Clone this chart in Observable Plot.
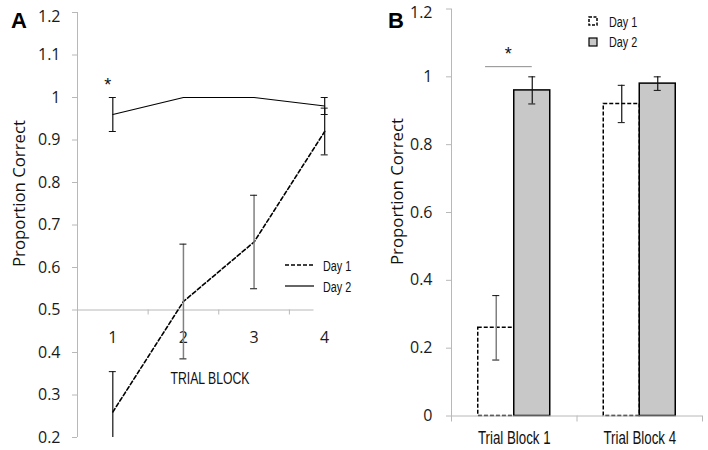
<!DOCTYPE html>
<html><head><meta charset="utf-8">
<script src="https://cdn.jsdelivr.net/npm/d3@7"></script>
<script src="https://cdn.jsdelivr.net/npm/@observablehq/plot@0.6"></script>
<style>
body{margin:0;background:#fff;}
#wrap{position:relative;width:708px;height:450px;overflow:hidden;background:#fff;}
#pa{position:absolute;left:0;top:0;}
#pb{position:absolute;left:360px;top:0;}
#pa svg,#pb svg{overflow:visible;}
#ann{position:absolute;left:0;top:0;pointer-events:none;}
</style></head><body>
<div id="wrap"><div id="pa"></div><div id="pb"></div>
<svg id="ann" width="708" height="450" xmlns="http://www.w3.org/2000/svg"></svg></div>
<script>
// ---- Panel A data ----
const blocksA = [1, 2, 3, 4];
const day1A = [0.26, 0.52, 0.66, 0.92];
const day1AErr = [0.095, 0.135, 0.11, 0.055];
const day2A = [0.96, 1.0, 1.0, 0.98];
const day2AErr = [0.04, 0, 0, 0.02];
const yTicksA = [0.2, 0.3, 0.4, 0.5, 0.6, 0.7, 0.8, 0.9, 1.0, 1.1, 1.2];
// ---- Panel B data ----
const blocksB = ["Trial Block 1", "Trial Block 4"];
const days = ["Day 1", "Day 2"];
const day1B = [0.26, 0.92];
const day1BErr = [0.095, 0.055];
const day2B = [0.96, 0.98];
const day2BErr = [0.04, 0.02];
const yTicksB = [0, 0.2, 0.4, 0.6, 0.8, 1, 1.2];

const GRAY = "#b8b8b8", ERRGRAY = "#808080";
const SANS = "'Open Sans', 'Noto Sans', sans-serif";
const NARROW = "'Liberation Sans', Arial, sans-serif";
const fmt = d => String(+d.toFixed(1));

const rowsA = blocksA.flatMap((b, i) => [
  {block: b, day: "Day 1", v: day1A[i], e: day1AErr[i]},
  {block: b, day: "Day 2", v: day2A[i], e: day2AErr[i]}
]);
const a1 = rowsA.filter(d => d.day === "Day 1");
const a2 = rowsA.filter(d => d.day === "Day 2");
const errA = rowsA.filter(d => d.e > 0);
const errAgray = errA.filter(d => d.day === "Day 1" && (d.block === 2 || d.block === 3));
const errAblack = errA.filter(d => !errAgray.includes(d));
const topA = yTicksA[yTicksA.length - 1];

const plotA = Plot.plot({
  width: 360, height: 450,
  marginLeft: 77, marginRight: 0.5, marginTop: 12, marginBottom: 13,
  x: {domain: [0.5, 4.5], axis: null},
  y: {domain: [0.2, 1.2], axis: null},
  style: {fontFamily: SANS, fontSize: "16px", color: "#111", background: "transparent", overflow: "visible"},
  marks: [
    Plot.ruleX([0.5], {stroke: GRAY}),
    Plot.axisY({ticks: yTicksA, tickSize: 5, text: null, stroke: GRAY, label: null}),
    Plot.axisY({ticks: yTicksA.slice(0, -1), tickSize: 5, tickPadding: 12, tickFormat: fmt, stroke: "none", fill: "#1a1a1a", fontSize: 16, label: null}),
    Plot.axisY({ticks: [topA], tickSize: 5, tickPadding: 12, tickFormat: fmt, stroke: "none", fill: "#1a1a1a", fontSize: 16, label: null, dy: 4}),
    Plot.ruleY([0.5], {x1: 0.5, x2: 4.5, insetRight: 46, stroke: GRAY}),
    Plot.ruleX([1.5, 2.5, 3.5], {y1: 0.5, y2: 0.5, insetBottom: -5, stroke: GRAY}),
    Plot.text(blocksA, {x: d => d, y: () => 0.5, dy: 28, text: d => String(d), fontSize: 16, fill: "#1a1a1a"}),
    Plot.line(a2, {x: "block", y: "v", stroke: "black", strokeWidth: 1.2}),
    Plot.line(a1, {x: "block", y: "v", stroke: "black", strokeWidth: 1.6, strokeDasharray: "4,2.5"}),
    Plot.ruleX(errAblack, {x: "block", y1: d => d.v - d.e, y2: d => d.v + d.e, stroke: "#111", strokeWidth: 1.2, clip: true}),
    Plot.ruleX(errAgray, {x: "block", y1: d => d.v - d.e, y2: d => d.v + d.e, stroke: ERRGRAY, strokeWidth: 1.5, clip: true}),
    Plot.ruleY(errA, {y: d => d.v + d.e, x1: "block", x2: "block", insetLeft: -3.5, insetRight: -3.5, stroke: "#111", clip: true}),
    Plot.ruleY(errA, {y: d => d.v - d.e, x1: "block", x2: "block", insetLeft: -3.5, insetRight: -3.5, stroke: "#111", clip: true}),
    Plot.text([blocksA[0]], {x: d => d, y: () => 1.0, dx: -5, dy: -12, text: () => "*", fontSize: 18, fontFamily: "Arial, sans-serif"})
  ]
});
document.getElementById("pa").appendChild(plotA);

const rowsB = blocksB.flatMap((b, i) => [
  {block: b, day: "Day 1", v: day1B[i], e: day1BErr[i]},
  {block: b, day: "Day 2", v: day2B[i], e: day2BErr[i]}
]);
const b1 = rowsB.filter(d => d.day === "Day 1");
const b2 = rowsB.filter(d => d.day === "Day 2");
const errBgray = rowsB.filter(d => d.day === "Day 1" && d.block === blocksB[0]);
const errBblack = rowsB.filter(d => !errBgray.includes(d));
const topB = yTicksB[yTicksB.length - 1];

const plotB = Plot.plot({
  width: 348, height: 450,
  marginLeft: 91, marginRight: 6, marginTop: 8.5, marginBottom: 34.5,
  fx: {domain: blocksB, padding: 0, axis: null, round: false},
  x: {domain: days, paddingInner: 0, paddingOuter: 0.743, axis: null, round: false},
  y: {domain: [0, 1.2], axis: null},
  style: {fontFamily: SANS, fontSize: "16px", color: "#111", background: "transparent", overflow: "visible"},
  marks: [
    Plot.frame({anchor: "left", facetAnchor: "left", stroke: GRAY, insetBottom: -5}),
    Plot.frame({anchor: "right", stroke: GRAY, insetTop: 407, insetBottom: -5}),
    Plot.axisY({ticks: yTicksB, tickSize: 5, text: null, stroke: GRAY, label: null}),
    Plot.axisY({ticks: yTicksB.slice(0, -1), tickSize: 5, tickPadding: 14, tickFormat: fmt, stroke: "none", fill: "#1a1a1a", fontSize: 16, label: null}),
    Plot.axisY({ticks: [topB], tickSize: 5, tickPadding: 14, tickFormat: fmt, stroke: "none", fill: "#1a1a1a", fontSize: 16, label: null, dy: 4}),
    Plot.axisFx({anchor: "bottom", tickSize: 0, tickPadding: 15, fontSize: 18.5, fontFamily: NARROW, fill: "#111", label: null}),
    Plot.barY(b1, {fx: "block", x: "day", y: "v", fill: "white", stroke: "black", strokeWidth: 1.5, strokeDasharray: "4,2"}),
    Plot.barY(b2, {fx: "block", x: "day", y: "v", fill: "#c8c8c8", stroke: "black", strokeWidth: 1.5}),
    Plot.ruleY([0], {stroke: GRAY}),
    Plot.ruleX(errBblack, {fx: "block", x: "day", y1: d => d.v - d.e, y2: d => d.v + d.e, stroke: "#111", strokeWidth: 1.2}),
    Plot.ruleX(errBgray, {fx: "block", x: "day", y1: d => d.v - d.e, y2: d => d.v + d.e, stroke: ERRGRAY, strokeWidth: 1.5}),
    Plot.tickY(rowsB, {fx: "block", x: "day", y: d => d.v + d.e, insetLeft: 14.5, insetRight: 14.5, stroke: "#111"}),
    Plot.tickY(rowsB, {fx: "block", x: "day", y: d => d.v - d.e, insetLeft: 14.5, insetRight: 14.5, stroke: "#111"}),
    Plot.ruleY([blocksB[0]], {fx: d => d, x1: () => days[0], x2: () => days[1], y: () => 1.03, insetLeft: 7.3, insetRight: 18, stroke: "#8c8c8c"}),
    Plot.text([blocksB[0]], {fx: d => d, x: () => days[0], y: () => 1.03, dx: 12, dy: -12, text: () => "*", fontSize: 18, fontFamily: "Arial, sans-serif"})
  ]
});
document.getElementById("pb").appendChild(plotB);
// condense the category labels horizontally (the original uses a narrow face)
d3.select(plotB).selectAll('g[aria-label="fx-axis tick label"] text').each(function () {
  const t = this.getAttribute("transform") || "";
  this.setAttribute("transform", t + " scale(0.72,1)");
});

// ---- annotations: panel letters, axis titles, legends ----
const ann = d3.select("#ann");
const narrowText = (x, y, size, k, anchor, str) =>
  ann.append("text").attr("transform", `translate(${x},${y}) scale(${k},1)`).attr("text-anchor", anchor)
    .attr("font-family", NARROW).attr("font-size", size).attr("fill", "#111").text(str);
ann.append("text").attr("x", 11).attr("y", 28).attr("font-family", "Arial, 'Liberation Sans', sans-serif").attr("font-weight", "bold").attr("font-size", 22).text("A");
ann.append("text").attr("x", 388).attr("y", 28).attr("font-family", "Arial, 'Liberation Sans', sans-serif").attr("font-weight", "bold").attr("font-size", 22).text("B");
ann.append("text").attr("transform", "translate(25,193.5) rotate(-90)").attr("text-anchor", "middle").attr("font-family", SANS).attr("font-size", 16.8).attr("fill", "#111").text("Proportion Correct");
ann.append("text").attr("transform", "translate(403,191.5) rotate(-90)").attr("text-anchor", "middle").attr("font-family", SANS).attr("font-size", 16.8).attr("fill", "#111").text("Proportion Correct");
narrowText(210, 384, 17, 0.72, "middle", "TRIAL BLOCK");
// legend A
ann.append("line").attr("x1", 285).attr("x2", 314).attr("y1", 265).attr("y2", 265).attr("stroke", "black").attr("stroke-width", 1.5).attr("stroke-dasharray", "4,2");
ann.append("line").attr("x1", 285).attr("x2", 314).attr("y1", 286).attr("y2", 286).attr("stroke", "black").attr("stroke-width", 1.2);
narrowText(323, 270.5, 15, 0.72, "start", days[0]);
narrowText(323, 291.5, 15, 0.72, "start", days[1]);
// legend B
ann.append("rect").attr("x", 589).attr("y", 17).attr("width", 8).attr("height", 8).attr("fill", "white").attr("stroke", "black").attr("stroke-width", 1.5).attr("stroke-dasharray", "3,1.5");
ann.append("rect").attr("x", 589).attr("y", 38).attr("width", 8).attr("height", 8).attr("fill", "#c8c8c8").attr("stroke", "black").attr("stroke-width", 1.2);
narrowText(609, 26.5, 15, 0.72, "start", days[0]);
narrowText(609, 46.5, 15, 0.72, "start", days[1]);
</script>
</body></html>
